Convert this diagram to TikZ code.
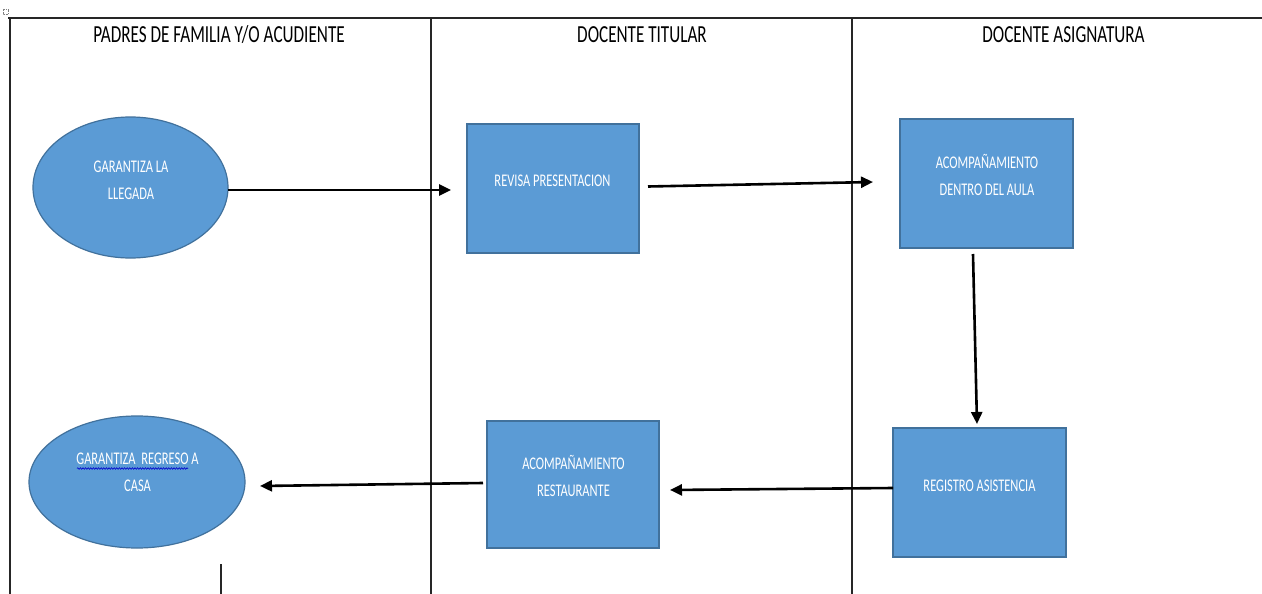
\documentclass[tikz,border=0pt]{standalone}
\usepackage{fontspec}
\setmainfont{Carlito}
\newfontfamily\narrowfont[FakeStretch=0.70]{Carlito}
\usetikzlibrary{arrows.meta,shapes.geometric,decorations.pathmorphing}
\definecolor{boxfill}{HTML}{5B9BD5}
\definecolor{boxedge}{HTML}{41719C}
\definecolor{gridline}{HTML}{262626}
\begin{document}
\begin{tikzpicture}[x=1pt,y=-1pt,
  lane/.style={draw=gridline, line width=1.1pt},
  hdr/.style={font=\narrowfont\fontsize{24.5}{28}\selectfont, text=black, inner sep=0pt, anchor=base},
  shapebox/.style={rectangle, draw=boxedge, fill=boxfill, line width=1.5pt, inner sep=0pt},
  oval/.style={ellipse, draw=boxedge, fill=boxfill, line width=1.2pt, inner sep=0pt},
  lbl/.style={font=\narrowfont\fontsize{17.8}{26.5}\selectfont, text=white, align=center, inner sep=0pt, anchor=base},
  flow/.style={line width=2.6pt, -{Triangle[length=12pt,width=11pt]}}
]
\useasboundingbox (0,0) rectangle (1262,594);
\path[fill=white] (0,0) rectangle (1262,594);

% table grid
\coordinate (tl) at (8,18);
\coordinate (tr) at (1262,18);
\draw[lane] (tl) -- (tr);
\draw[lane] (10,18) -- (10,594);
\draw[lane] (431,18) -- (431,594);
\draw[lane] (852,18) -- (852,594);
\draw[lane] (221,564) -- (221,594);
\draw[gray, line width=0.5pt, densely dotted] (3,9) rectangle (8,14);

% headers
\node[hdr] (h1) at (219,43) {PADRES DE FAMILIA Y/O ACUDIENTE};
\node[hdr] (h2) at (642,43) {DOCENTE TITULAR};
\node[hdr] (h3) at (1063.5,43) {DOCENTE ASIGNATURA};

% shapes
\node[oval, minimum width=195pt, minimum height=141pt] (e1) at (130.5,187.5) {};
\node[oval, minimum width=216pt, minimum height=132pt] (e2) at (137,482) {};
\node[shapebox, minimum width=172pt, minimum height=129pt] (b1) at (553,188.5) {};
\node[shapebox, minimum width=173pt, minimum height=129pt] (b2) at (986.5,183.5) {};
\node[shapebox, minimum width=173pt, minimum height=129pt] (b3) at (979.5,492.5) {};
\node[shapebox, minimum width=172pt, minimum height=127pt] (b4) at (573,484.5) {};

% labels (anchor = baseline of the last line)
\node[lbl] (t1) at (131,199) {GARANTIZA LA\\LLEGADA};
\node[lbl] (t2) at (137.5,491) {GARANTIZA\ \ REGRESO A\\CASA};
\node[lbl] (t3) at (552.5,186) {REVISA PRESENTACION};
\node[lbl] (t4) at (987,195) {ACOMPAÑAMIENTO\\DENTRO DEL AULA};
\node[lbl] (t5) at (979.5,491) {REGISTRO ASISTENCIA};
\node[lbl] (t6) at (573.5,496) {ACOMPAÑAMIENTO\\RESTAURANTE};

% spell-check squiggle
\coordinate (sq1) at (77,468.5);
\coordinate (sq2) at (188,468.5);
\draw[blue!80!black, line width=0.6pt, decorate, decoration={snake, amplitude=0.8pt, segment length=2.6pt}] (sq1) -- (sq2);

% connectors
\coordinate (a1s) at (228,190);
\coordinate (a1e) at (451,190);
\coordinate (a2s) at (648,186.5);
\coordinate (a2e) at (873,182);
\coordinate (a3s) at (973,254);
\coordinate (a3e) at (977,424);
\coordinate (a4s) at (893,488);
\coordinate (a4e) at (670,490);
\coordinate (a5s) at (483,483);
\coordinate (a5e) at (260,486);
\draw[flow] (a1s) -- (a1e);
\draw[flow] (a2s) -- (a2e);
\draw[flow] (a3s) -- (a3e);
\draw[flow] (a4s) -- (a4e);
\draw[flow] (a5s) -- (a5e);
\end{tikzpicture}
\end{document}
